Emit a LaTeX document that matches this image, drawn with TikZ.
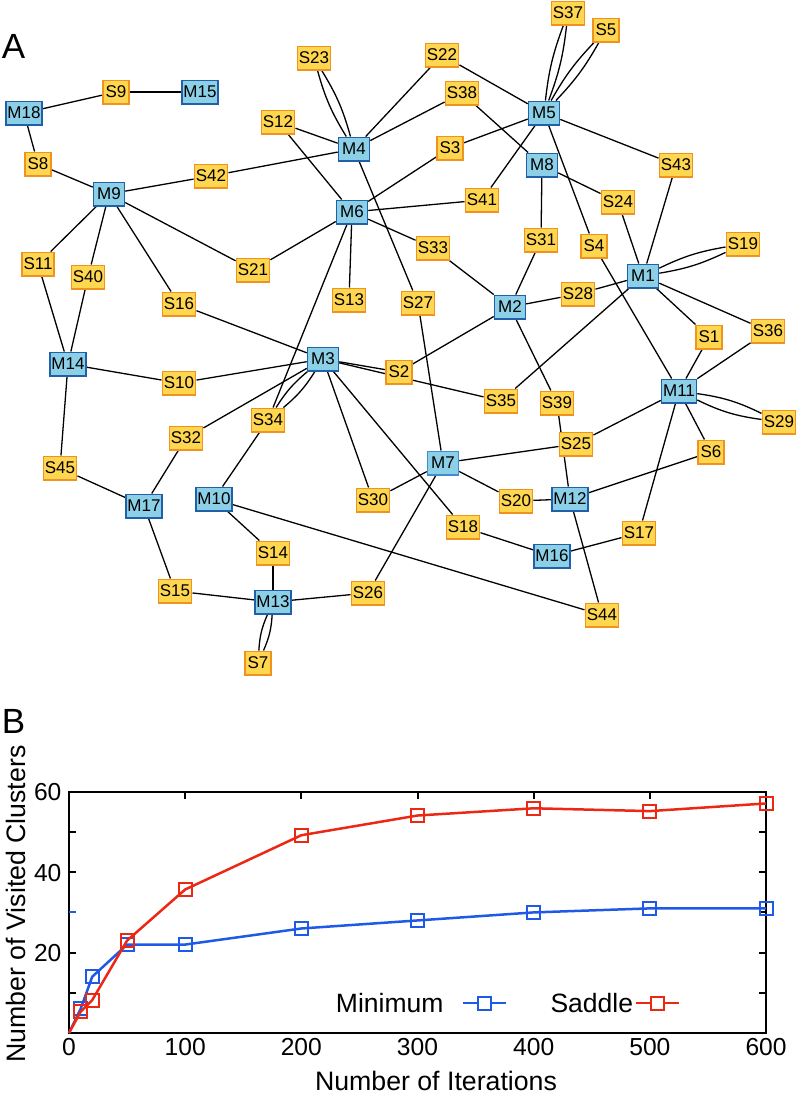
\documentclass[tikz,border=0pt]{standalone}
\usepackage{fontspec}
\setmainfont{Liberation Sans}
\usetikzlibrary{backgrounds,plotmarks}

\definecolor{mfill}{RGB}{140,208,232}
\definecolor{mborder}{RGB}{32,96,168}
\definecolor{sfill}{RGB}{255,214,80}
\definecolor{sborder}{RGB}{240,146,30}
\definecolor{minblue}{RGB}{30,90,230}
\definecolor{sadred}{RGB}{236,40,20}

\begin{document}
\begin{tikzpicture}[x=1pt, y=-1pt,
	mnode/.style={draw=mborder, fill=mfill, line width=1.5pt, minimum width=31pt,
		minimum height=23.5pt, inner xsep=1.6pt, inner ysep=0pt,
		font=\fontsize{17}{18}\selectfont},
	snode/.style={mnode, draw=sborder, fill=sfill, minimum width=26pt},
	link/.style={line width=1.3pt},
	panel/.style={font=\fontsize{35}{40}\selectfont},
	ticklbl/.style={font=\fontsize{24.6}{28}\selectfont},
	axtitle/.style={font=\fontsize{26.7}{30}\selectfont},
	bline/.style={minblue, line width=2.5pt},
	rline/.style={sadred, line width=2.5pt},
	sqmark/.style={line width=2pt, fill=white}]

	\useasboundingbox (0,0) rectangle (796,1098);

	% --- Panel labels ---
	\node[panel, anchor=base] (lblA) at (13.5,58) {A};
	\node[panel, anchor=base] (lblB) at (13.5,733) {B};

	% --- Minima ---
	\foreach \n/\x/\y in {M1/643/276, M2/510/307, M3/323/359, M4/354/149, M5/544/113,
		M6/352/212, M8/542/165, M9/109/194, M10/214/499, M11/679/391, M12/570/499,
		M13/273/602, M14/68/364, M15/200/92, M16/552/556, M17/144/506, M18/24/113} {
		\node[mnode] (\n) at (\x,\y) {\n};
	}
	\node[mnode, draw=cyan!60!blue!80] (M7) at (443,463) {M7};

	% --- Saddles ---
	\foreach \n/\x/\y in {S1/709/337, S2/399/372, S3/450/148, S4/594/246, S5/606/30,
		S6/711/452, S7/258/663, S8/38/164, S9/116/92, S10/179/383, S11/38/264,
		S12/278/122, S13/349/300, S14/273/553, S15/175/591, S16/179/304, S17/639/533,
		S18/463/527, S19/743/244, S20/516/501, S21/253/270, S22/442/55, S23/314/58,
		S24/618/202, S25/576/444, S26/368/593, S27/418/303, S28/578/294, S29/779/422,
		S30/373/500, S31/541/240, S32/186/438, S33/433/248, S34/268/420, S35/501/401,
		S36/768/331, S37/568/13, S38/462/93, S39/557/403, S40/88/277, S41/482/200,
		S42/211/176, S43/676/165, S44/602/615, S45/60/468} {
		\node[snode] (\n) at (\x,\y) {\n};
	}

	% --- Connections ---
	\begin{scope}[on background layer]
		\foreach \a/\b in {M18/S9, M15/S9, M18/S8, M9/S8, M9/S42, M4/S42, M9/S11,
			M14/S11, M9/S40, M14/S40, M9/S16, M3/S16, M9/S21, M6/S21, M4/S12, M6/S12,
			M4/S22, M5/S22, M4/S38, M8/S38, M5/S3, M6/S3, M6/S41, M5/S41, M6/S33,
			M2/S33, M6/S13, M4/S27, M7/S27, M6/S34, M10/S34, M5/S43, M1/S43, M5/S4,
			M11/S4, M8/S24, M1/S24, M8/S31, M2/S31, M2/S28, M1/S28, M3/S2, M2/S2,
			M3/S35, M1/S35, M2/S39, M12/S39, M1/S1, M11/S1, M1/S36, M11/S36, M14/S10,
			M3/S10, M14/S45, M17/S45, M3/S32, M17/S32, M3/S30, M7/S30, M3/S18, M16/S18,
			M7/S25, M11/S25, M7/S20, M12/S20, M12/S6, M11/S6, M11/S17, M16/S17,
			M10/S44, M12/S44, M7/S26, M13/S26, M10/S14, M13/S14, M17/S15, M13/S15}
			\draw[link] (\a) -- (\b);
		% double connections
		\foreach \a/\b/\t in {M4/S23/8, M5/S37/7, M5/S5/7, M1/S19/8, M3/S34/9,
			M11/S29/9, M13/S7/10} {
			\draw[link] (\a) to[bend left=\t] (\b);
			\draw[link] (\a) to[bend right=\t] (\b);
		}
	\end{scope}

	% --- Chart ---
	\begin{scope}[shift={(69,1033)}, x=1.1617pt, y=4.02pt]
		\draw[line width=2pt] (0,0) rectangle (600,60);
		\foreach \x in {100,200,300,400,500}
			\draw[line width=2pt] (\x,60) -- ++(0,-1.75);
		\foreach \y in {10,20,40,50} {
			\draw[line width=2pt] (0,\y) -- ++(6,0);
			\draw[line width=2pt] (600,\y) -- ++(-6,0);
		}
		\draw[line width=2pt, minblue] (0,30) -- ++(6,0);
		\draw[line width=2pt] (600,30) -- ++(-6,0);

		% tick labels
		\foreach \x in {0,100,...,600}
			\node[ticklbl, anchor=base] at (\x,-5.7) {\x};
		\foreach \y in {20,40,60}
			\node[ticklbl, anchor=base east] at (-3.5,{\y-2.2}) {\y};

		% data
		\draw[bline] plot[mark=square, mark size=6.5pt, mark indices={2,...,10},
			mark options={sqmark}] coordinates {(0,0) (10,6) (20,14) (50,22) (100,22)
			(200,26) (300,28) (400,30) (500,31) (600,31)};
		\draw[rline] plot[mark=square, mark size=6.5pt, mark indices={2,...,10},
			mark options={sqmark}] coordinates {(0,0) (10,5.3) (20,8.2) (50,23)
			(100,35.7) (200,49.2) (300,54.1) (400,55.9) (500,55.2) (600,57.1)};
	\end{scope}

	% --- Axis titles ---
	\node[axtitle, anchor=base] (xtitle) at (436,1090) {Number of Iterations};
	\node[axtitle, anchor=base, rotate=90] (ytitle) at (25,904) {Number of Visited Clusters};

	% --- Legend ---
	\node[axtitle, font=\fontsize{26.5}{30}\selectfont, anchor=base east] (legmin) at (447,1012.5) {Minimum};
	\draw[bline] (463,1003) -- (506,1003);
	\draw[minblue, sqmark] (478,996.5) rectangle (491,1009.5);
	\node[axtitle, font=\fontsize{26.5}{30}\selectfont, anchor=base west] (legsad) at (547,1012.5) {Saddle};
	\draw[rline] (636,1003) -- (679,1003);
	\draw[sadred, sqmark] (651,996.5) rectangle (664,1009.5);

\end{tikzpicture}
\end{document}
